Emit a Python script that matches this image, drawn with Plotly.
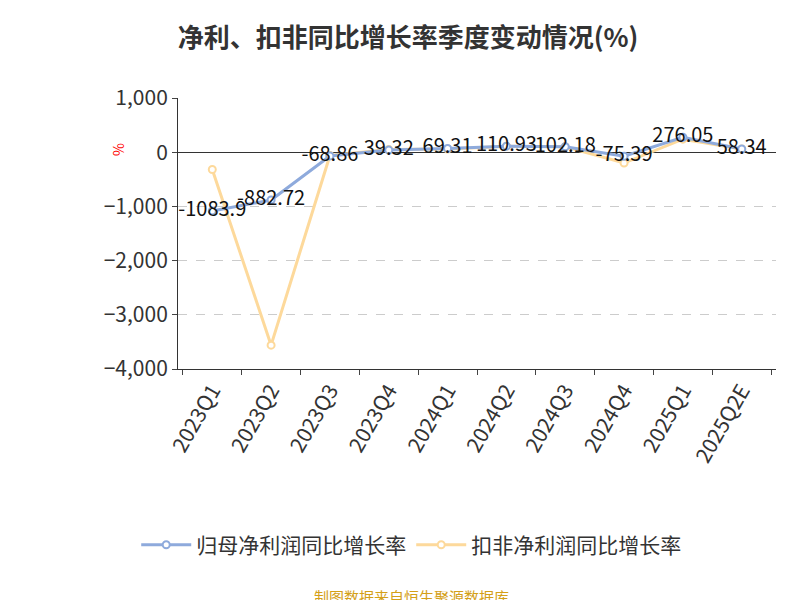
import plotly.graph_objects as go

quarters = ['2023Q1', '2023Q2', '2023Q3', '2023Q4', '2024Q1', '2024Q2',
            '2024Q3', '2024Q4', '2025Q1', '2025Q2E']
net_profit_yoy = [-1083.9, -882.72, -68.86, 39.32, 69.31, 110.93, 102.18, -75.39, 276.05, 58.34]
deducted_yoy = [-320, -3560, -60, 50, 60, 110, 100, -200, 240, 60]

fig = go.Figure()
fig.add_trace(go.Scatter(
    x=quarters, y=deducted_yoy, name='扣非净利润同比增长率',
    mode='lines+markers', line=dict(color='#fdd99b', width=3),
    marker=dict(size=7, color='white', line=dict(color='#fdd99b', width=2)),
    cliponaxis=False,
))
fig.add_trace(go.Scatter(
    x=quarters, y=net_profit_yoy, name='归母净利润同比增长率',
    mode='lines+markers+text', text=[f'{v:g}' for v in net_profit_yoy],
    textposition='middle center', textfont=dict(size=20, color='#111'),
    line=dict(color='#8eaadc', width=3),
    marker=dict(size=7, color='white', line=dict(color='#8eaadc', width=2)),
    cliponaxis=False,
))

fig.update_layout(
    width=800, height=600, paper_bgcolor='white', plot_bgcolor='white',
    font=dict(family='Noto Sans CJK SC', color='#333'),
    title=dict(text='<b>净利、扣非同比增长率季度变动情况(%)</b>', x=0.5, xanchor='center',
               y=0.965, font=dict(size=26, color='#333')),
    margin=dict(l=170, r=32, t=90, b=239, autoexpand=False),
    legend=dict(orientation='h', x=0.39, xanchor='center', y=-0.65, yanchor='middle',
                font=dict(size=21, color='#333'), traceorder='reversed',
                itemwidth=50),
    showlegend=True,
    annotations=[
        dict(text='%', x=-0.12, y=0.84, xref='paper', yref='paper', showarrow=False,
             textangle=-90, font=dict(size=14, color='red')),
        dict(text='制图数据来自恒生聚源数据库', x=0.39, y=-0.84, xref='paper', yref='paper',
             yanchor='middle', showarrow=False, font=dict(size=15, color='#d4a017')),
    ],
)
fig.update_xaxes(showline=True, linecolor='#333', ticks='outside', tickson='boundaries',
                 tickangle=-60, tickfont=dict(size=21, color='#333'), showgrid=False,
                 automargin=False)
fig.update_yaxes(range=[-4000, 1000], dtick=1000, tickformat=',', showline=True,
                 linecolor='#333', ticks='outside', tickfont=dict(size=21, color='#333'),
                 gridcolor='#ccc', griddash='dash', zeroline=True, zerolinecolor='#333',
                 zerolinewidth=1, automargin=False)
fig.write_html('out.html')
